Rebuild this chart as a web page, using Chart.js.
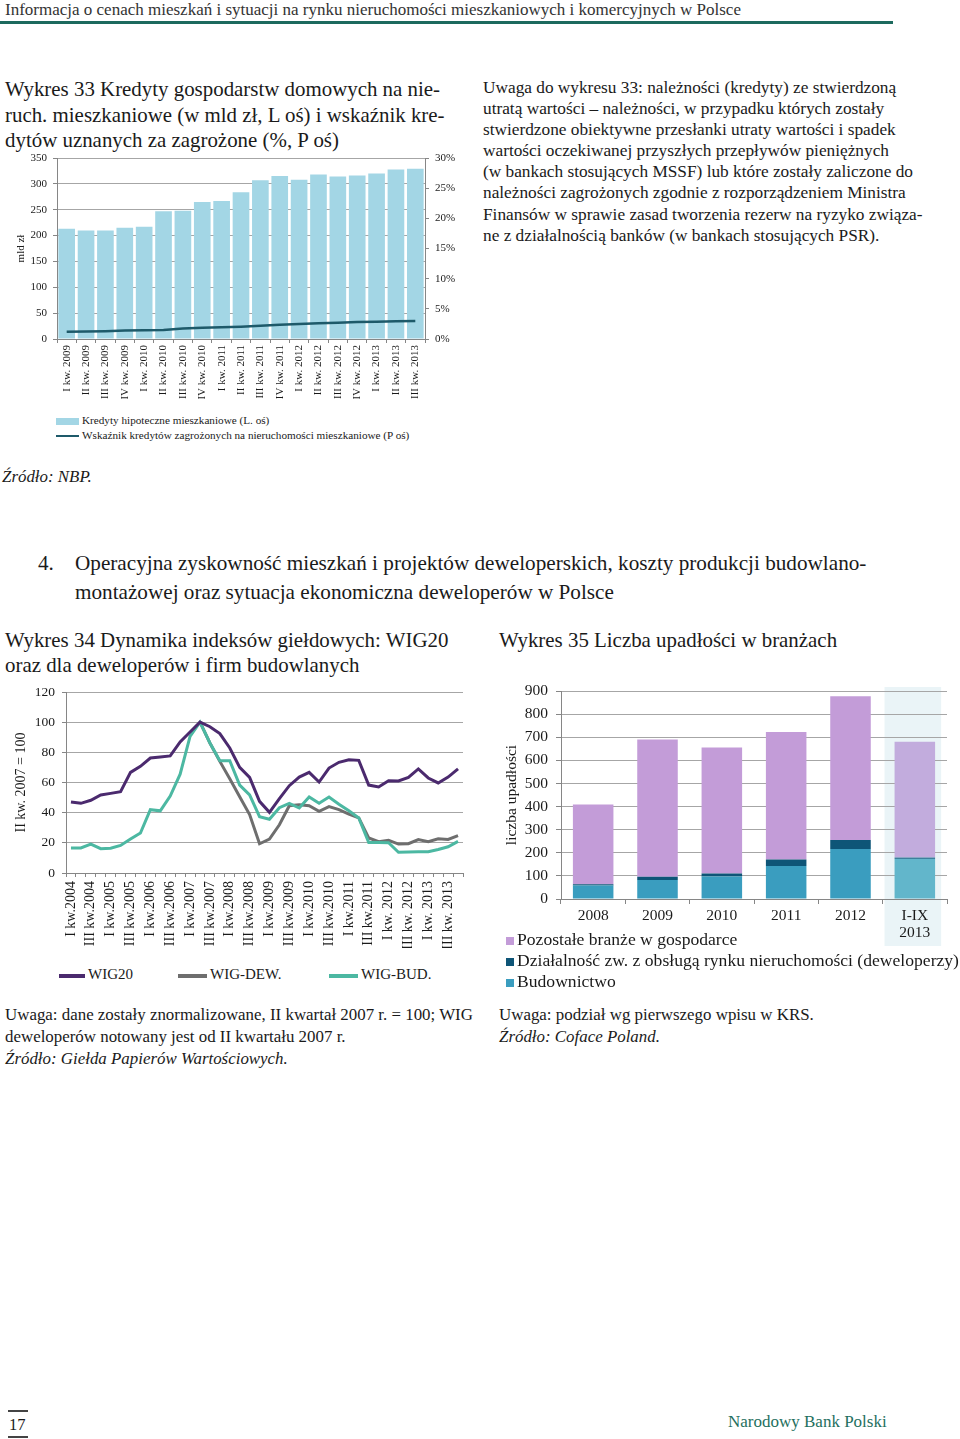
<!DOCTYPE html>
<html lang="pl">
<head>
<meta charset="utf-8">
<title>Wykresy 33–35</title>
<script src="https://cdn.jsdelivr.net/npm/chart.js@4.4.0/dist/chart.umd.min.js"></script>
<style>
  html, body { margin: 0; padding: 0; background: #fff; }
  body { width: 960px; height: 1439px; position: relative; overflow: hidden;
         font-family: 'Liberation Serif', 'Times New Roman', serif; color: #1a1a1a; }
  .abs { position: absolute; white-space: nowrap; }
  canvas { position: absolute; }
  .title { font-size: 20.9px; line-height: 25.5px; }
  .note { font-size: 16.9px; line-height: 22px; }
  .src { font-style: italic; }
  .sw { display: inline-block; vertical-align: middle; margin-right: 3px; }
</style>
</head>
<body>

<div class="abs" style="left:5px; top:0px; font-size:17px; line-height:20px; color:#333;">Informacja o cenach mieszkań i sytuacji na rynku nieruchomości mieszkaniowych i komercyjnych w Polsce</div>
<div class="abs" style="left:0; top:21px; width:893px; height:3px; background:#1d6a5e;"></div>

<div class="abs title" style="left:5px; top:77px;">Wykres 33 Kredyty gospodarstw domowych na nie-<br>ruch. mieszkaniowe (w mld zł, L oś) i wskaźnik kre-<br>dytów uznanych za zagrożone (%, P oś)</div>

<div class="abs" style="left:483px; top:77px; font-size:17.3px; line-height:21.1px;">Uwaga do wykresu 33: należności (kredyty) ze stwierdzoną<br>utratą wartości – należności, w przypadku których zostały<br>stwierdzone obiektywne przesłanki utraty wartości i spadek<br>wartości oczekiwanej przyszłych przepływów pieniężnych<br>(w bankach stosujących MSSF) lub które zostały zaliczone do<br>należności zagrożonych zgodnie z rozporządzeniem Ministra<br>Finansów w sprawie zasad tworzenia rezerw na ryzyko związa-<br>ne z działalnością banków (w bankach stosujących PSR).</div>

<canvas id="chart33" width="470" height="251" style="left:0; top:148px;"></canvas>

<div class="abs" style="left:56px; top:413px; font-size:11.2px; line-height:15px;">
  <span class="sw" style="width:23px; height:7px; background:#a3d6e5;"></span>Kredyty hipoteczne mieszkaniowe (L. oś)<br>
  <span class="sw" style="width:23px; height:2px; background:#1e5a6a;"></span>Wskaźnik kredytów zagrożonych na nieruchomości mieszkaniowe (P oś)
</div>

<div class="abs note src" style="left:2px; top:466px;">Źródło: NBP.</div>

<div class="abs" style="left:38px; top:549px; font-size:21.2px; line-height:29px;">4.</div>
<div class="abs" style="left:75px; top:549px; font-size:21.2px; line-height:29px;">Operacyjna zyskowność mieszkań i projektów deweloperskich, koszty produkcji budowlano-<br>montażowej oraz sytuacja ekonomiczna deweloperów w Polsce</div>

<div class="abs title" style="left:5px; top:628px; line-height:25px;">Wykres 34 Dynamika indeksów giełdowych: WIG20<br>oraz dla deweloperów i firm budowlanych</div>
<div class="abs title" style="left:499px; top:628px; line-height:25px;">Wykres 35 Liczba upadłości w branżach</div>

<canvas id="chart34" width="480" height="268" style="left:0; top:680px;"></canvas>
<canvas id="chart35" width="465" height="266" style="left:495px; top:680px;"></canvas>

<div class="abs" style="left:59px; top:964px; font-size:15px; line-height:20px;"><span class="sw" style="width:26px; height:4px; background:#4b2a6e;"></span>WIG20</div>
<div class="abs" style="left:178px; top:964px; font-size:15px; line-height:20px;"><span class="sw" style="width:29px; height:4px; background:#6e6e6e;"></span>WIG-DEW.</div>
<div class="abs" style="left:329px; top:964px; font-size:15px; line-height:20px;"><span class="sw" style="width:29px; height:4px; background:#4cb8a2;"></span>WIG-BUD.</div>

<div class="abs" style="left:506px; top:929px; font-size:17.6px; line-height:21px;">
  <span class="sw" style="width:8px; height:8px; background:#c39cd8;"></span>Pozostałe branże w gospodarce<br>
  <span class="sw" style="width:8px; height:8px; background:#0e5577;"></span>Działalność zw. z obsługą rynku nieruchomości (deweloperzy)<br>
  <span class="sw" style="width:8px; height:8px; background:#3a9dbf;"></span>Budownictwo
</div>

<div class="abs note" style="left:5px; top:1004px;">Uwaga: dane zostały znormalizowane, II kwartał 2007 r. = 100; WIG<br>deweloperów notowany jest od II kwartału 2007 r.<br><span class="src">Źródło: Giełda Papierów Wartościowych.</span></div>
<div class="abs note" style="left:499px; top:1004px;">Uwaga: podział wg pierwszego wpisu w KRS.<br><span class="src">Źródło: Coface Poland.</span></div>

<div class="abs" style="left:8px; top:1410px; width:20px; height:2px; background:#444;"></div>
<div class="abs" style="left:9px; top:1415px; font-size:16.5px; line-height:20px;">17</div>
<div class="abs" style="left:8px; top:1436px; width:20px; height:2px; background:#444;"></div>
<div class="abs" style="left:728px; top:1412px; font-size:17px; line-height:20px; color:#1f7060;">Narodowy Bank Polski</div>

<script>
// Wykres 33 - kredyty hipoteczne (mld zl) i wskaznik kredytow zagrozonych (%)
const quarters33 = ['I kw. 2009', 'II kw. 2009', 'III kw. 2009', 'IV kw. 2009',
    'I kw. 2010', 'II kw. 2010', 'III kw. 2010', 'IV kw. 2010',
    'I kw. 2011', 'II kw. 2011', 'III kw. 2011', 'IV kw. 2011',
    'I kw. 2012', 'II kw. 2012', 'III kw. 2012', 'IV kw. 2012',
    'I kw. 2013', 'II kw. 2013', 'III kw. 2013'];
const mortgageLoans = [213, 210, 210, 215, 217, 247, 248, 265, 267, 284, 307, 315, 308, 318, 314, 316, 320, 328, 329];
const impairedRatio = [1.2, 1.25, 1.3, 1.4, 1.45, 1.5, 1.75, 1.85, 1.95, 2.05, 2.2, 2.35, 2.5, 2.6, 2.7, 2.8, 2.85, 2.95, 3.0];

// Wykres 34 - indeksy gieldowe, II kw. 2007 = 100
const quarters34 = ['I kw.2004', 'II kw.2004', 'III kw.2004', 'IV kw.2004',
    'I kw.2005', 'II kw.2005', 'III kw.2005', 'IV kw.2005',
    'I kw.2006', 'II kw.2006', 'III kw.2006', 'IV kw.2006',
    'I kw.2007', 'II kw.2007', 'III kw.2007', 'IV kw.2007',
    'I kw.2008', 'II kw.2008', 'III kw.2008', 'IV kw.2008',
    'I kw.2009', 'II kw.2009', 'III kw.2009', 'IV kw.2009',
    'I kw.2010', 'II kw.2010', 'III kw.2010', 'IV kw.2010',
    'I kw.2011', 'II kw.2011', 'III kw.2011', 'IV kw.2011',
    'I kw. 2012', 'II kw. 2012', 'III kw. 2012', 'IV kw. 2012',
    'I kw. 2013', 'II kw. 2013', 'III kw. 2013', 'IV kw. 2013'];
const wig20 = [47.1, 46.2, 48.2, 51.7, 52.8, 53.9, 66.7, 70.7, 76.2, 76.9,
    77.6, 86.9, 93.5, 100, 97, 92.4, 82.9, 70, 63.4, 47.5,
    40.2, 49.3, 57.9, 63.6, 66.7, 60.3, 69.6, 73.4, 75.1, 74.7,
    58.3, 57, 61.2, 61, 63.4, 69, 63, 59.7, 63.6, 69];
const wigDew = [null, null, null, null, null, null, null, null, null, null,
    null, null, null, 100, 86.2, 74, 62.5, 50.5, 38.7, 19.4,
    22.5, 32, 44.6, 45.3, 44.6, 40.9, 44, 42, 39.1, 36.5,
    23.2, 20.8, 21.7, 19.2, 19.4, 22.2, 20.8, 22.7, 22.2, 24.8];
const wigBud = [16.6, 16.6, 19.2, 16.1, 16.4, 18.3, 22.5, 26.5, 42, 41.2,
    51, 65.5, 90.6, 100, 86.2, 74.5, 74.5, 58.3, 51.8, 37.3,
    35.6, 43.3, 46.2, 43.1, 50.4, 46.2, 50.4, 45.6, 41.2, 36.5,
    20.3, 20.3, 20.1, 13.7, 13.9, 14.1, 14.1, 15.6, 17.4, 21];

// Wykres 35 - liczba upadlosci
const years35 = ['2008', '2009', '2010', '2011', '2012', ['I-IX', '2013']];
const construction = [58, 82, 97, 143, 216, 173];
const developers = [6, 14, 13, 28, 39, 7];
const otherSectors = [345, 594, 545, 552, 622, 500];

const serif = 'Liberation Serif';
const gridGray = '#a6a6a6';
const axisGray = '#868686';

Chart.defaults.font.family = serif;
Chart.defaults.color = '#1a1a1a';
Chart.defaults.animation = false;

// fix the axis box so the plot area sits where it does in the original
function fixWidth(w) {
    return s => { s.width = w; s.paddingTop = 0; s.paddingBottom = 0; };
}

function initChart33() {
    const ctx = document.getElementById('chart33').getContext('2d');
    new Chart(ctx, {
        type: 'bar',
        data: {
            labels: quarters33,
            datasets: [{
                type: 'line',
                label: 'Wskaźnik kredytów zagrożonych na nieruchomości mieszkaniowe (P oś)',
                data: impairedRatio,
                yAxisID: 'y1',
                borderColor: '#1e5a6a',
                borderWidth: 2.5,
                pointRadius: 0,
                tension: 0,
                order: 1
            }, {
                label: 'Kredyty hipoteczne mieszkaniowe (L. oś)',
                data: mortgageLoans,
                yAxisID: 'y',
                backgroundColor: '#a3d6e5',
                categoryPercentage: 1,
                barPercentage: 0.86,
                order: 2
            }]
        },
        options: {
            responsive: false,
            layout: { padding: { top: 10, left: 0, right: 0, bottom: 0 } },
            plugins: { legend: { display: false }, tooltip: { enabled: false } },
            scales: {
                x: {
                    afterFit: s => { s.height = 60; },
                    grid: { drawOnChartArea: false, tickLength: 4, color: axisGray },
                    border: { color: axisGray },
                    ticks: { minRotation: 90, maxRotation: 90, autoSkip: false, padding: 2,
                             font: { size: 11 }, color: '#1a1a1a' }
                },
                y: {
                    min: 0, max: 350,
                    afterFit: fixWidth(57),
                    grid: { color: gridGray, tickLength: 4, tickColor: axisGray },
                    border: { color: axisGray },
                    ticks: { stepSize: 50, padding: 6, font: { size: 11 } },
                    title: { display: true, text: 'mld zł', font: { size: 11 }, padding: { top: 15 } }
                },
                y1: {
                    position: 'right',
                    min: 0, max: 30,
                    afterFit: fixWidth(45),
                    grid: { drawOnChartArea: false, tickLength: 4, color: axisGray },
                    border: { color: axisGray },
                    ticks: { stepSize: 5, padding: 6, font: { size: 11 }, callback: v => v + '%' }
                }
            }
        }
    });
}

function initChart34() {
    const ctx = document.getElementById('chart34').getContext('2d');
    new Chart(ctx, {
        type: 'line',
        data: {
            labels: quarters34,
            datasets: [{
                label: 'WIG20',
                data: wig20,
                borderColor: '#4b2a6e',
                borderWidth: 3,
                pointRadius: 0,
                tension: 0
            }, {
                label: 'WIG-BUD.',
                data: wigBud,
                borderColor: '#4cb8a2',
                borderWidth: 3,
                pointRadius: 0,
                tension: 0
            }, {
                label: 'WIG-DEW.',
                data: wigDew,
                borderColor: '#6e6e6e',
                borderWidth: 3,
                pointRadius: 0,
                tension: 0
            }]
        },
        options: {
            responsive: false,
            layout: { padding: { top: 12, left: 0, right: 17, bottom: 0 } },
            plugins: { legend: { display: false }, tooltip: { enabled: false } },
            scales: {
                x: {
                    offset: true,
                    afterFit: s => { s.height = 75; },
                    grid: { offset: true, drawOnChartArea: false, tickLength: 4, color: axisGray },
                    border: { color: axisGray },
                    ticks: {
                        minRotation: 90, maxRotation: 90, autoSkip: false, padding: 4,
                        font: { size: 14 }, color: '#1a1a1a',
                        callback: function (v, i) { return i % 2 === 0 ? this.getLabelForValue(v) : ''; }
                    }
                },
                y: {
                    min: 0, max: 120,
                    afterFit: fixWidth(66),
                    grid: { color: gridGray, tickLength: 4, tickColor: axisGray },
                    border: { color: axisGray },
                    ticks: { stepSize: 20, padding: 7, font: { size: 13.5 } },
                    title: { display: true, text: 'II kw. 2007 = 100', font: { size: 14 }, padding: { top: 13 } }
                }
            }
        }
    });
}

// light band behind the I-IX 2013 column
const highlightBand = {
    id: 'highlightBand',
    beforeDraw(chart) {
        const x = chart.scales.x;
        const step = x.getPixelForValue(1) - x.getPixelForValue(0);
        const w = step * 0.88;
        const cx = x.getPixelForValue(5) - 2;
        const c = chart.ctx;
        c.save();
        c.fillStyle = '#eaf4f7';
        c.fillRect(cx - w / 2, chart.chartArea.top - 4, w, chart.height - chart.chartArea.top + 4);
        c.restore();
    }
};

function initChart35() {
    const ctx = document.getElementById('chart35').getContext('2d');
    new Chart(ctx, {
        type: 'bar',
        data: {
            labels: years35,
            datasets: [{
                label: 'Budownictwo',
                data: construction,
                backgroundColor: ['#3a9dbf', '#3a9dbf', '#3a9dbf', '#3a9dbf', '#3a9dbf', '#62b6cb']
            }, {
                label: 'Działalność zw. z obsługą rynku nieruchomości (deweloperzy)',
                data: developers,
                backgroundColor: ['#0e5577', '#0e5577', '#0e5577', '#0e5577', '#0e5577', '#3f7f9c']
            }, {
                label: 'Pozostałe branże w gospodarce',
                data: otherSectors,
                backgroundColor: ['#c39cd8', '#c39cd8', '#c39cd8', '#c39cd8', '#c39cd8', '#c2acdd']
            }]
        },
        options: {
            responsive: false,
            layout: { padding: { top: 11, left: 0, right: 13, bottom: 0 } },
            plugins: { legend: { display: false }, tooltip: { enabled: false } },
            datasets: { bar: { categoryPercentage: 1, barPercentage: 0.63 } },
            scales: {
                x: {
                    stacked: true,
                    afterFit: s => { s.height = 47; },
                    grid: { drawOnChartArea: false, tickLength: 5, color: axisGray },
                    border: { color: axisGray },
                    ticks: { maxRotation: 0, padding: 3, font: { size: 15.5, lineHeight: 1.1 }, color: '#1a1a1a' }
                },
                y: {
                    stacked: true,
                    min: 0, max: 900,
                    afterFit: fixWidth(66),
                    grid: { color: gridGray, tickLength: 5, tickColor: axisGray },
                    border: { color: axisGray },
                    ticks: { stepSize: 100, padding: 8, font: { size: 15.5 } },
                    title: { display: true, text: 'liczba upadłości', font: { size: 15.5 }, padding: { top: 8 } }
                }
            }
        },
        plugins: [highlightBand]
    });
}

document.addEventListener('DOMContentLoaded', function () {
    initChart33();
    initChart34();
    initChart35();
});
</script>
</body>
</html>
